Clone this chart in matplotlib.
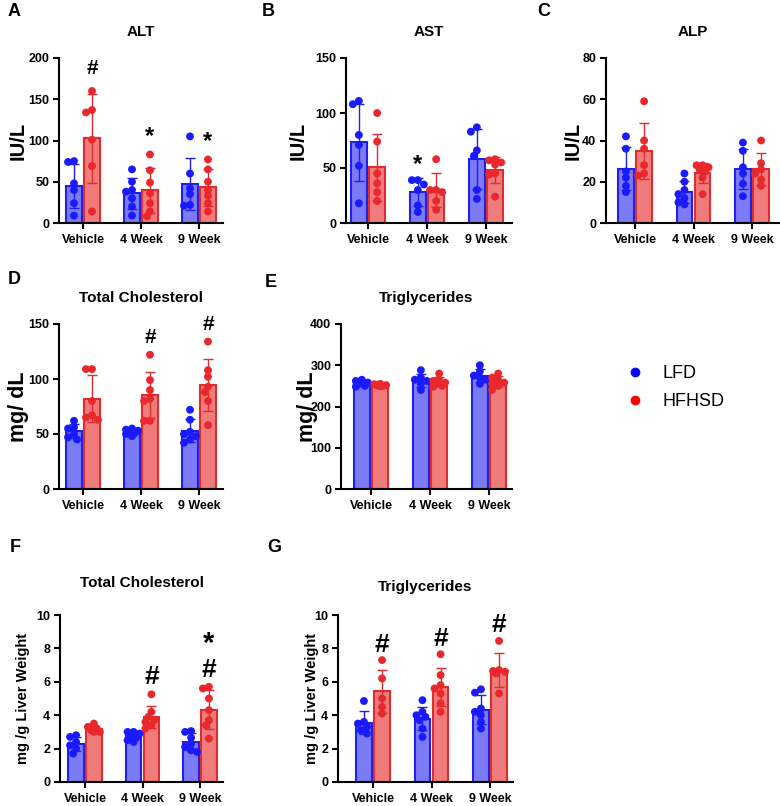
import numpy as np
import matplotlib
matplotlib.use('Agg')
import matplotlib.pyplot as plt
from matplotlib.lines import Line2D

# =============================================================================
# PLOT CONFIGURATION
# =============================================================================
plt.rcParams.update({
    'font.family'       : ['Liberation Sans', 'DejaVu Sans'],
    'font.weight'       : 'bold',
    'axes.linewidth'    : 1.5,
    'xtick.major.width' : 1.5,
    'ytick.major.width' : 1.5,
    'xtick.major.size'  : 4,
    'ytick.major.size'  : 4,
    'xtick.labelsize'   : 9,
    'ytick.labelsize'   : 9,
    'xtick.major.pad'   : 4,
    'ytick.major.pad'   : 3,
})

W, H = 780, 806
GROUPS = ['Vehicle', '4 Week', '9 Week']
SERIES = ['LFD', 'HFHSD']

# serum values, one list per group
ALT_LFD = [[74, 75, 48, 40, 24, 9], [65, 50, 40, 38, 30, 20, 9], [105, 60, 42, 35, 21, 22]]
ALT_HFHSD = [[160, 137, 134, 101, 69, 14], [83, 64, 49, 36, 24, 14, 8], [77, 65, 50, 40, 33, 24, 14]]
AST_LFD = [[108, 111, 80, 71, 52, 18], [39, 39, 35, 30, 16, 10], [87, 83, 66, 61, 30, 22]]
AST_HFHSD = [[100, 74, 45, 36, 28, 20], [58, 30, 30, 28, 20, 12], [58, 57, 55, 53, 45, 44, 24]]
ALP_LFD = [[42, 36, 25, 22, 18, 15], [24, 20, 16, 14, 12, 10, 9], [39, 35, 27, 24, 19, 13]]
ALP_HFHSD = [[59, 40, 36, 28, 24, 23], [28, 28, 27, 26, 25, 22, 14], [40, 29, 26, 24, 21, 18]]
TC_LFD = [[62, 56, 55, 50, 47, 45], [55, 54, 53, 52, 51, 50, 48], [72, 63, 52, 50, 48, 45, 42]]
TC_HFHSD = [[109, 109, 80, 67, 65, 63], [122, 99, 90, 82, 80, 62, 62], [134, 108, 102, 93, 88, 80, 58]]
TG_LFD = [[265, 262, 258, 255, 250, 248], [288, 270, 265, 262, 255, 240], [300, 285, 275, 270, 265, 255]]
TG_HFHSD = [[255, 254, 252, 251, 250, 249], [280, 265, 262, 258, 255, 250, 248], [280, 270, 265, 258, 255, 250, 240]]

# liver values
LIVER_TC_LFD = [[2.8, 2.7, 2.4, 2.2, 2.0, 1.7], [3.0, 3.0, 2.9, 2.8, 2.7, 2.5, 2.4], [3.05, 3.0, 2.65, 2.3, 2.1, 1.9, 1.8]]
LIVER_TC_HFHSD = [[3.5, 3.3, 3.2, 3.1, 3.0, 3.0], [5.25, 4.2, 3.9, 3.7, 3.6, 3.4, 3.2], [5.7, 5.6, 5.0, 4.3, 3.7, 3.4, 2.6]]
LIVER_TG_LFD = [[4.85, 3.6, 3.5, 3.3, 3.1, 2.9], [4.9, 4.2, 4.0, 3.9, 3.7, 3.2, 2.7], [5.55, 5.35, 4.4, 4.2, 4.0, 3.6, 3.2]]
LIVER_TG_HFHSD = [[7.3, 6.2, 5.0, 4.5, 4.1], [7.65, 6.4, 5.8, 5.6, 5.3, 4.7, 4.2], [8.45, 6.7, 6.65, 6.6, 6.5, 5.3]]

# significance marks: (group index, series, symbol)
ALT_MARKS = [(0, 'HFHSD', '#'), (1, 'HFHSD', '*'), (2, 'HFHSD', '*')]
AST_MARKS = [(1, 'LFD', '*')]
TC_MARKS = [(1, 'HFHSD', '#'), (2, 'HFHSD', '#')]
LIVER_TC_MARKS = [(1, 'HFHSD', '#'), (2, 'HFHSD', '#'), (2, 'HFHSD', '*')]
LIVER_TG_MARKS = [(0, 'HFHSD', '#'), (1, 'HFHSD', '#'), (2, 'HFHSD', '#')]

FILL = {'LFD': '#7b7bf6', 'HFHSD': '#ef7b7b'}
EDGE = {'LFD': '#2020e8', 'HFHSD': '#e02c2c'}
DOT = {'LFD': '#1a1aff', 'HFHSD': '#e8282c'}

# panel layout in pixels: (left, top, right, bottom), first group centre, group spacing
PANELS = [
    dict(key='A', title='ALT', ylabel='IU/L', data=(ALT_LFD, ALT_HFHSD), yticks=[0, 50, 100, 150, 200],
         box=(59, 58, 223, 223), c0=83, step=58, letter=(8, 12), title_y=32, title_fs=11,
         ylab_x=18, ylab_fs=14.5, marks=ALT_MARKS, mark_fs=(15, 17), mark_gap=18),
    dict(key='B', title='AST', ylabel='IU/L', data=(AST_LFD, AST_HFHSD), yticks=[0, 50, 100, 150],
         box=(346, 58, 512, 223), c0=368, step=59, letter=(262, 12), title_y=32, title_fs=11,
         ylab_x=298, ylab_fs=14.5, marks=AST_MARKS, mark_fs=(15, 17), mark_gap=15),
    dict(key='C', title='ALP', ylabel='IU/L', data=(ALP_LFD, ALP_HFHSD), yticks=[0, 20, 40, 60, 80],
         box=(606, 58, 779, 223), c0=635, step=58.5, letter=(537, 12), title_y=32, title_fs=11,
         ylab_x=573, ylab_fs=14.5, marks=[], mark_fs=(15, 17), mark_gap=15),
    dict(key='D', title='Total Cholesterol', ylabel='mg/ dL', data=(TC_LFD, TC_HFHSD), yticks=[0, 50, 100, 150],
         box=(59, 324, 223, 489), c0=83, step=58, letter=(8, 279), title_y=298, title_fs=11,
         ylab_x=19, ylab_fs=15.5, marks=TC_MARKS, mark_fs=(15, 17), mark_gap=14),
    dict(key='E', title='Triglycerides', ylabel='mg/ dL', data=(TG_LFD, TG_HFHSD), yticks=[0, 100, 200, 300, 400],
         box=(341, 324, 512, 489), c0=371, step=59, letter=(265, 282), title_y=298, title_fs=11,
         ylab_x=307, ylab_fs=15.5, marks=[], mark_fs=(15, 17), mark_gap=14),
    dict(key='F', title='Total Cholesterol', ylabel='mg /g Liver Weight', data=(LIVER_TC_LFD, LIVER_TC_HFHSD),
         yticks=[0, 2, 4, 6, 8, 10], box=(60, 615, 223, 782), c0=85, step=57.5, letter=(10, 547), title_y=583,
         title_fs=11, ylab_x=23, ylab_fs=10.5, marks=LIVER_TC_MARKS, mark_fs=(19, 21), mark_gap=14),
    dict(key='G', title='Triglycerides', ylabel='mg /g Liver Weight', data=(LIVER_TG_LFD, LIVER_TG_HFHSD),
         yticks=[0, 2, 4, 6, 8, 10], box=(338, 615, 513, 782), c0=373, step=58.5, letter=(267, 547), title_y=587,
         title_fs=11, ylab_x=312, ylab_fs=10.5, marks=LIVER_TG_MARKS, mark_fs=(19, 21), mark_gap=13),
]

BAR_W = 0.27
BAR_OFF = 0.155
GLYPH_CENTRE = {'#': 0.36, '*': 0.58}


def swarm_offsets(vals, px_per_unit, step, diam=7.0):
    """Spread points sideways a little, GraphPad style, keeping them near the bar."""
    vals = np.asarray(vals, dtype=float)
    placed = []
    offs = np.zeros(len(vals))
    cands = [0, -1, 1, -2, 2]
    for i in np.argsort(vals)[::-1]:
        y = vals[i] * px_per_unit
        best, best_d = 0.0, -1.0
        for c in cands:
            x = c * 3.0
            d = min([np.hypot(x - px, y - py) for px, py in placed] or [99.0])
            if d >= diam * 0.8:
                best = x
                break
            if d > best_d:
                best, best_d = x, d
        placed.append((best, y))
        offs[i] = best
    return offs / step


def draw_panel(fig, p):
    l, t, r, b = p['box']
    ax = fig.add_axes([l / W, 1 - b / H, (r - l) / W, (b - t) / H])
    ymax = p['yticks'][-1]
    px_per_unit = (b - t) / ymax
    ax.set_xlim(-(p['c0'] - l) / p['step'], (r - p['c0']) / p['step'])
    ax.set_ylim(0, ymax)

    tops = {}
    for s, series in enumerate(SERIES):
        groups = p['data'][s]
        sign = -1 if series == 'LFD' else 1
        for g, vals in enumerate(groups):
            x = g + sign * BAR_OFF
            mean = np.mean(vals)
            sd = np.std(vals, ddof=1)
            ax.bar(x, mean, BAR_W, color=FILL[series], edgecolor=EDGE[series], linewidth=1.5, zorder=2)
            ax.errorbar(x, mean, yerr=sd, fmt='none', ecolor=EDGE[series], elinewidth=1,
                        capsize=3.5, capthick=1, zorder=3)
            offs = swarm_offsets(vals, px_per_unit, p['step'])
            ax.scatter(x + offs, vals, s=32, color=DOT[series], edgecolors='none', zorder=4, clip_on=False)
            tops[(g, series)] = max(max(vals), mean + sd)

    # significance marks
    level = {}
    for g, series, sym in p['marks']:
        k = level.get((g, series), 0)
        level[(g, series)] = k + 1
        fs = p['mark_fs'][0] if sym == '#' else p['mark_fs'][1]
        x = g + (-1 if series == 'LFD' else 1) * BAR_OFF
        off = p['mark_gap'] + 23 * k - GLYPH_CENTRE[sym] * fs
        ax.annotate(sym, xy=(x, tops[(g, series)]), xytext=(0, off), textcoords='offset points',
                    ha='center', va='baseline', fontsize=fs, fontweight='bold', annotation_clip=False)

    ax.set_xticks(range(len(GROUPS)))
    ax.set_xticklabels(GROUPS)
    ax.set_yticks(p['yticks'])
    ax.spines['top'].set_visible(False)
    ax.spines['right'].set_visible(False)
    ax.tick_params(direction='out')

    ax.set_ylabel(p['ylabel'], fontsize=p['ylab_fs'], fontweight='bold', va='center')
    ax.yaxis.set_label_coords((p['ylab_x'] - l) / (r - l), 0.5)

    fig.text((l + r) / 2 / W, 1 - p['title_y'] / H, p['title'], ha='center', va='center',
             fontsize=p['title_fs'], fontweight='bold')
    lx, ly = p['letter']
    fig.text(lx / W, 1 - ly / H, p['key'], ha='left', va='center', fontsize=13, fontweight='bold')
    return ax


def generate_figure():
    fig = plt.figure(figsize=(W / 100, H / 100), dpi=100)
    for p in PANELS:
        draw_panel(fig, p)

    handles = [
        Line2D([], [], marker='o', linestyle='none', color='#0000ff', markersize=6, label='LFD'),
        Line2D([], [], marker='o', linestyle='none', color='#ff0000', markersize=6, label='HFHSD'),
    ]
    fig.legend(handles=handles, loc='center left', bbox_to_anchor=(626 / W, 1 - 387.5 / H),
               frameon=False, borderpad=0, borderaxespad=0, handlelength=1.0, handletextpad=1.0,
               labelspacing=0.6, prop={'family': ['Liberation Sans', 'DejaVu Sans'],
                                       'weight': 'normal', 'size': 13})

    fig.savefig('out.png', dpi=100)
    plt.close(fig)


if __name__ == "__main__":
    generate_figure()
